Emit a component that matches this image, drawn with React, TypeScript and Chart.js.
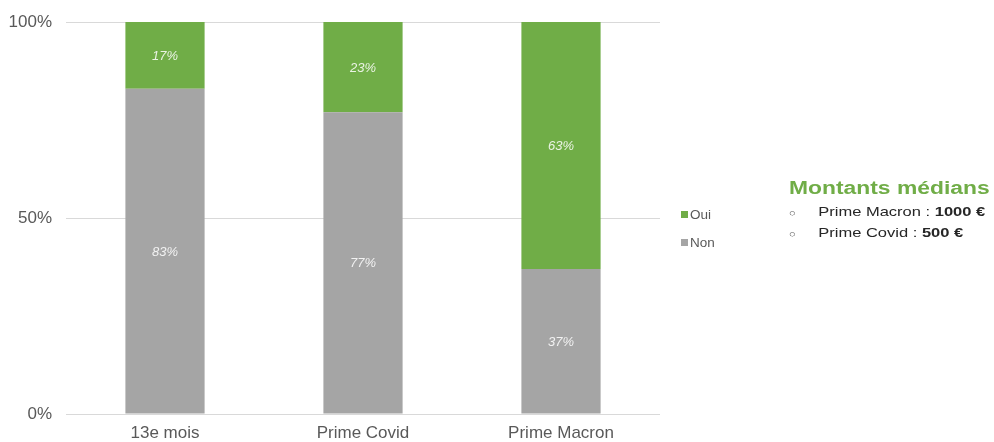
import React, { useEffect, useRef } from "react";
import { Chart, registerables } from "chart.js";

Chart.register(...registerables);

const categories = ["13e mois", "Prime Covid", "Prime Macron"];
const nonValues = [83, 77, 37];
const ouiValues = [17, 23, 63];
const yTicks = [0, 50, 100];
const legendLabels = ["Oui", "Non"];

const GREEN = "#70AD47";
const GREY = "#A5A5A5";
const FONT = "'Liberation Sans', Arial, sans-serif";

const segmentLabels = {
  id: "segmentLabels",
  afterDatasetsDraw(chart: any) {
    const ctx = chart.ctx;
    ctx.save();
    ctx.font = `italic 13px ${FONT}`;
    ctx.fillStyle = "rgba(255,255,255,0.85)";
    ctx.textAlign = "center";
    ctx.textBaseline = "middle";
    chart.data.datasets.forEach((ds: any, di: number) => {
      const meta = chart.getDatasetMeta(di);
      meta.data.forEach((bar: any, i: number) => {
        const y = (bar.y + bar.base) / 2;
        ctx.fillText(ds.data[i] + "%", bar.x, y + 1);
      });
    });
    ctx.restore();
  },
};

const customLegend = {
  id: "customLegend",
  afterDraw(chart: any) {
    const ctx = chart.ctx;
    ctx.save();
    ctx.font = `13.5px ${FONT}`;
    ctx.textBaseline = "middle";
    const colors = [GREEN, GREY];
    legendLabels.forEach((lab, i) => {
      const y = 214 + i * 28;
      ctx.fillStyle = colors[i];
      ctx.fillRect(681, y - 3, 7, 7);
      ctx.fillStyle = "#595959";
      ctx.fillText(lab, 690, y + 1);
    });
    ctx.restore();
  },
};

export default function App() {
  const ref = useRef<HTMLCanvasElement>(null);
  useEffect(() => {
    if (!ref.current) return;
    const chart = new Chart(ref.current, {
      type: "bar",
      data: {
        labels: categories,
        datasets: [
          { label: "Non", data: nonValues, backgroundColor: GREY, barPercentage: 0.4, categoryPercentage: 1 },
          { label: "Oui", data: ouiValues, backgroundColor: GREEN, barPercentage: 0.4, categoryPercentage: 1 },
        ],
      },
      options: {
        animation: false,
        responsive: false,
        maintainAspectRatio: false,
        layout: { padding: { top: 22, right: 334, left: 0, bottom: 0 } },
        plugins: { legend: { display: false }, tooltip: { enabled: false } },
        scales: {
          x: {
            stacked: true,
            grid: { display: false, drawTicks: false },
            border: { display: false },
            ticks: { color: "#595959", font: { family: FONT, size: 17 }, padding: 9 },
            afterFit(scale: any) { scale.height = 28; },
          },
          y: {
            stacked: true,
            min: 0,
            max: 100,
            afterBuildTicks(scale: any) { scale.ticks = yTicks.map((v) => ({ value: v })); },
            grid: { color: "#D9D9D9", lineWidth: 1, drawTicks: false },
            border: { display: false },
            ticks: {
              color: "#595959",
              font: { family: FONT, size: 17 },
              padding: 14,
              callback: (v: any) => v + "%",
            },
            afterFit(scale: any) {
              scale.width = 66;
              scale.paddingTop = 0;
              scale.paddingBottom = 0;
            },
          },
        },
      },
      plugins: [segmentLabels, customLegend],
    });
    return () => chart.destroy();
  }, []);

  return (
    <div style={{ position: "fixed", left: 0, top: 0, width: 994, height: 442, background: "#fff", overflow: "hidden" }}>
      <canvas ref={ref} width={994} height={442} style={{ display: "block" }} />
      <div
        style={{
          position: "absolute",
          left: 789,
          top: 177,
          fontFamily: FONT,
          color: "#262626",
          transform: "scaleX(1.27)",
          transformOrigin: "0 0",
        }}
      >
        <div style={{ color: GREEN, fontWeight: "bold", fontSize: 18, lineHeight: "22px", whiteSpace: "nowrap" }}>
          Montants médians
        </div>
        <div style={{ fontSize: 13, lineHeight: "19px", whiteSpace: "nowrap", marginTop: 3 }}>
          <div>
            <span style={{ display: "inline-block", width: 23, fontSize: 9, color: "#595959" }}>○</span>
            Prime Macron : <b>1000 €</b>
          </div>
          <div>
            <span style={{ display: "inline-block", width: 23, fontSize: 9, color: "#595959" }}>○</span>
            Prime Covid : <b>500 €</b>
          </div>
        </div>
      </div>
    </div>
  );
}
